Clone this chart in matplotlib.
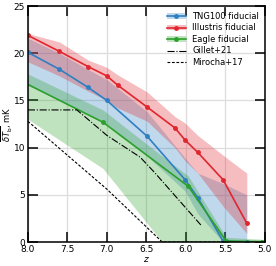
import numpy as np
import matplotlib
matplotlib.use("Agg")
import matplotlib.pyplot as plt
from matplotlib.patches import Patch
from matplotlib.lines import Line2D

# TNG100 fiducial
tng_z = [8.0, 7.6, 7.24, 7.0, 6.49, 6.01, 5.85, 5.53, 5.23]
tng_y = [20.1, 18.3, 16.4, 15.0, 11.2, 6.6, 4.7, 0.1, 0.0]
tng_hi = [21.6, 20.0, 18.3, 17.2, 13.8, 8.9, 7.3, 6.2, 5.0]
tng_lo = [16.6, 15.0, 13.5, 12.5, 9.1, 5.4, 3.0, 0.0, 0.0]

# Illustris fiducial
ill_z = [8.0, 7.6, 7.24, 7.0, 6.86, 6.49, 6.14, 6.01, 5.85, 5.53, 5.23]
ill_y = [21.9, 20.2, 18.6, 17.6, 16.6, 14.3, 12.1, 10.8, 9.5, 6.6, 2.0]
ill_hi = [22.1, 21.2, 19.3, 18.5, 17.7, 15.9, 13.3, 12.6, 11.3, 9.2, 7.3]
ill_lo = [19.1, 17.6, 16.0, 15.0, 14.2, 12.8, 10.0, 8.6, 7.3, 3.8, 0.9]

# Eagle fiducial
eag_z = [8.07, 7.05, 5.97, 5.49, 5.04]
eag_y = [17.0, 12.7, 5.9, 0.1, 0.05]
eag_band_z = [8.07, 7.05, 6.3, 5.97, 5.49, 5.04]
eag_hi = [18.1, 14.0, 9.1, 7.0, 0.5, 0.3]
eag_lo = [13.4, 7.8, 0.0, 0.0, 0.0, 0.0]

# literature
gil_z = [8.0, 7.38, 7.0, 6.58, 6.4, 5.8]
gil_y = [14.0, 14.0, 11.3, 9.0, 7.4, 1.7]
mir_z = [8.0, 7.0, 6.3, 5.5]
mir_y = [12.8, 5.6, 0.0, 0.0]

c_blue = "#2f7fc1"
c_red = "#e0262f"
c_green = "#2ca02c"

plt.rcParams["font.size"] = 6.5
fig = plt.figure(figsize=(2.76, 2.66), dpi=100)
ax = fig.add_axes([0.101, 0.090, 0.859, 0.887])

ax.fill_between(tng_z, tng_lo, tng_hi, color=c_blue, alpha=0.3, lw=0)
ax.plot(tng_z, tng_y, "-o", color=c_blue, lw=1.2, ms=2.5)
ax.fill_between(ill_z, ill_lo, ill_hi, color=c_red, alpha=0.3, lw=0)
ax.plot(ill_z, ill_y, "-o", color=c_red, lw=1.2, ms=2.5)
ax.fill_between(eag_band_z, eag_lo, eag_hi, color=c_green, alpha=0.3, lw=0)
ax.plot(eag_z, eag_y, "-o", color=c_green, lw=1.2, ms=2.5)

ax.plot(gil_z, gil_y, "-.", color="k", lw=0.8)
ax.plot(mir_z, mir_y, "--", color="k", lw=0.8, dashes=(2.5, 1.5))

ax.set_xlim(8.0, 5.0)
ax.set_ylim(0, 25)
ax.set_xticks([8.0, 7.5, 7.0, 6.5, 6.0, 5.5, 5.0])
ax.set_yticks([0, 5, 10, 15, 20, 25])
ax.grid(True, color="#dddddd", lw=0.9)
ax.set_axisbelow(True)
ax.tick_params(direction="in", length=7, width=1.1, top=True, right=True, pad=2)
for s in ax.spines.values():
    s.set_linewidth(1.1)
ax.set_xlabel("$z$", labelpad=1)
ax.set_ylabel(r"$\overline{\delta T_{\rm b}}$, mK", fontsize=6)
ax.yaxis.set_label_coords(-0.055, 0.5)

handles = [
    (Patch(color=c_blue, alpha=0.3, lw=0), Line2D([], [], color=c_blue, marker="o", ms=2.5, lw=1.2)),
    (Patch(color=c_red, alpha=0.3, lw=0), Line2D([], [], color=c_red, marker="o", ms=2.5, lw=1.2)),
    (Patch(color=c_green, alpha=0.3, lw=0), Line2D([], [], color=c_green, marker="o", ms=2.5, lw=1.2)),
    Line2D([], [], color="k", ls="-.", lw=0.8),
    Line2D([], [], color="k", ls="--", lw=0.8, dashes=(2.5, 1.5)),
]
labels = ["TNG100 fiducial", "Illustris fiducial", "Eagle fiducial", "Gillet+21", "Mirocha+17"]
ax.legend(handles, labels, loc="upper right", frameon=False, fontsize=6,
          handlelength=2.2, handleheight=0.6, labelspacing=0.3, borderaxespad=0.3)

fig.savefig("out.png", dpi=100)
